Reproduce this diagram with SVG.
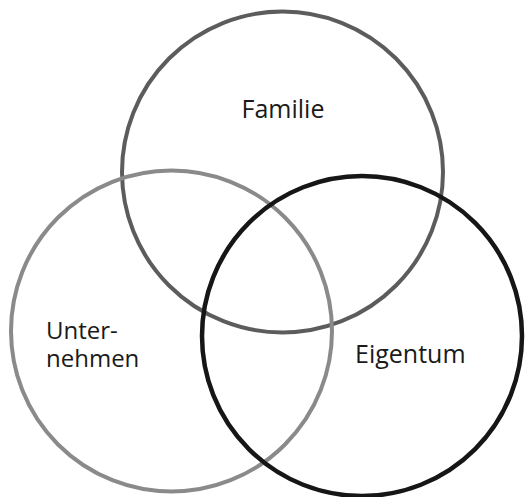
<svg xmlns="http://www.w3.org/2000/svg" width="525" height="497" viewBox="0 0 525 497">
<style>
.c{fill:none}
.t{font-family:"Open Sans","Liberation Sans",sans-serif;font-size:25px;fill:#1a1a1a}
.u{font-size:24px}
</style>
<rect width="525" height="497" fill="#fff"/>
<g id="connectors"></g>
<g id="familie">
<circle class="c" cx="282.5" cy="172" r="160.5" stroke="#5c5c5c" stroke-width="4"/>
<text class="t" x="283" y="118" text-anchor="middle">Familie</text>
</g>
<g id="unternehmen">
<circle class="c" cx="171.5" cy="331" r="160.5" stroke="#8a8a8a" stroke-width="4"/>
<text class="t u" x="46" y="339">Unter-</text>
<text class="t u" x="46" y="367">nehmen</text>
</g>
<g id="eigentum">
<circle class="c" cx="362" cy="336" r="160" stroke="#161616" stroke-width="4.5"/>
<text class="t" x="355" y="363">Eigentum</text>
</g>
</svg>
